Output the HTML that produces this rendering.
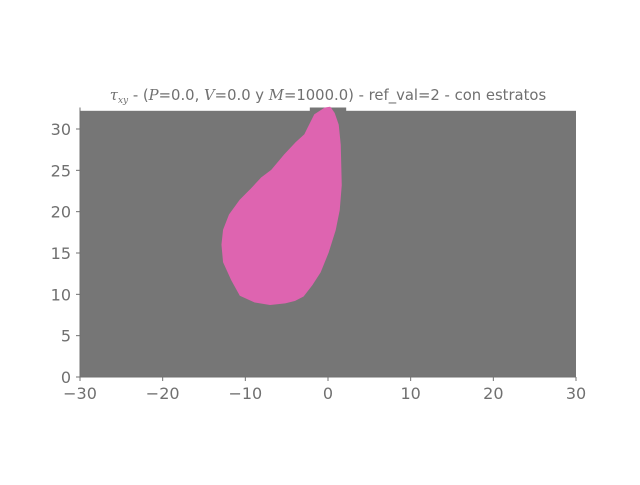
<!DOCTYPE html>
<html><head><meta charset="utf-8"><style>
body{margin:0;background:#fff}
svg text{font-family:"DejaVu Sans","Liberation Sans",sans-serif;fill:#707070}
</style></head><body>
<svg width="640" height="480">
<g id="plot"></g>
<g id="axes"></g>
<text x="328" y="100" text-anchor="middle" font-size="14.8"><tspan font-family="DejaVu Serif" font-style="italic">τ<tspan font-size="9" dy="3">xy</tspan></tspan><tspan dy="-3"> - (</tspan><tspan font-family="DejaVu Serif" font-style="italic">P</tspan>=0.0, <tspan font-family="DejaVu Serif" font-style="italic">V</tspan>=0.0  y <tspan font-family="DejaVu Serif" font-style="italic">M</tspan>=1000.0) - ref_val=2 - con estratos</text>
</svg>
<script>
const xTicks=[-30,-20,-10,0,10,20,30];
const yTicks=[0,5,10,15,20,25,30];
const regionX=[-30,30];
const regionTop=32.2;
const notchX=[-2.2,2.2];
const notchTop=32.6;
const blobX=[-0.36,0.24,0.73,1.21,1.45,1.57,1.33,0.85,0,-0.97,-1.94,-3.02,-3.99,-5.2,-7.0,-8.83,-10.6,-11.6,-12.6,-12.8,-12.6,-11.9,-10.6,-9.4,-8.0,-6.8,-5.2,-3.9,-2.8,-2.2,-1.6];
const blobY=[32.5,32.6,31.9,30.5,28.1,23.2,20.2,17.8,15.1,12.7,11.2,9.8,9.3,9.0,8.8,9.1,9.9,11.7,13.9,16.0,17.8,19.6,21.4,22.6,24.1,25.0,26.9,28.3,29.3,30.5,31.7];
const X=v=>328+v*(496/60);
const Y=v=>377-v*(248/30);
const NS="http://www.w3.org/2000/svg";
const plot=document.getElementById('plot'),axes=document.getElementById('axes');
function mk(p,t,a){const e=document.createElementNS(NS,t);for(const k in a)e.setAttribute(k,a[k]);p.appendChild(e);return e;}
let r=mk(plot,'rect',{x:X(regionX[0]),y:Y(regionTop),width:X(regionX[1])-X(regionX[0]),height:Y(0)-Y(regionTop),fill:'#767676'});


let n=mk(plot,'rect',{x:X(notchX[0]),y:Y(notchTop),width:X(notchX[1])-X(notchX[0]),height:Y(regionTop)-Y(notchTop)+1,fill:'#767676'});


let d='';blobX.forEach((v,i)=>{d+=(i?'L':'M')+X(v).toFixed(1)+','+Y(blobY[i]).toFixed(1);});
let b=mk(plot,'path',{d:d+'Z',fill:'#de64b0','stroke':'#de64b0','stroke-width':1.5,'stroke-linejoin':'round'});


let sl=mk(axes,'line',{x1:80,y1:Y(0),x2:80,y2:Y(notchTop),stroke:'#707070','stroke-width':1});


let sb=mk(axes,'line',{x1:80,y1:Y(0),x2:576,y2:Y(0),stroke:'#707070','stroke-width':1});


xTicks.forEach(v=>{
 mk(axes,'line',{x1:X(v),y1:377,x2:X(v),y2:381,stroke:'#707070'});
 const t=mk(axes,'text',{x:X(v),y:399,'text-anchor':'middle','font-size':16});
 t.textContent=String(v).replace('-','−');
 
 
});
yTicks.forEach(v=>{
 mk(axes,'line',{x1:76,y1:Y(v),x2:80,y2:Y(v),stroke:'#707070'});
 const t=mk(axes,'text',{x:71,y:Y(v)+6,'text-anchor':'end','font-size':16});
 t.textContent=v;
 
 
});
</script>
</body></html>
